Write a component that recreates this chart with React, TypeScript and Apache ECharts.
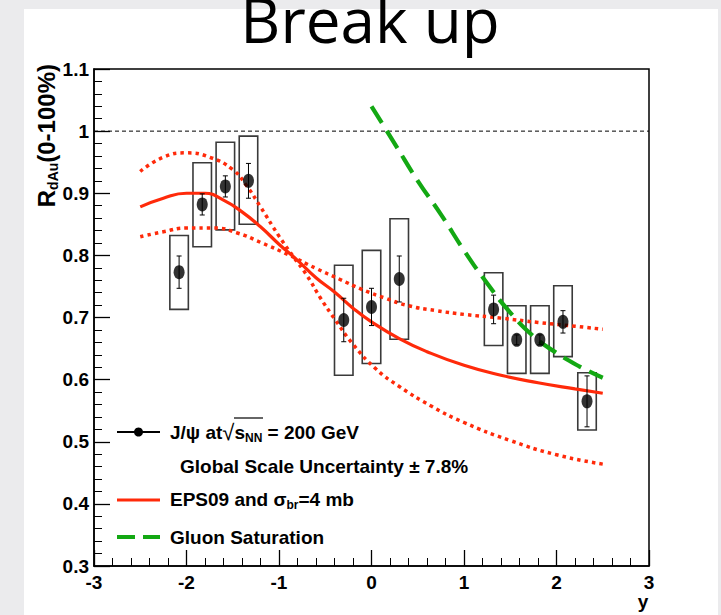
import React, { useEffect, useRef } from "react";
import * as echarts from "echarts";

// ---- data ----
const jpsiY = [-2.08, -1.83, -1.58, -1.33, -0.3, 0.0, 0.3, 1.32, 1.57, 1.82, 2.07, 2.33];
const jpsiR = [0.773, 0.882, 0.911, 0.92, 0.696, 0.717, 0.762, 0.713, 0.664, 0.664, 0.693, 0.565];
const statErr = [0.026, 0.017, 0.017, 0.028, 0.035, 0.03, 0.037, 0.023, 0.008, 0.008, 0.018, 0.041];
const sysLo = [0.713, 0.814, 0.841, 0.85, 0.607, 0.626, 0.665, 0.655, 0.61, 0.61, 0.637, 0.519];
const sysHi = [0.832, 0.949, 0.982, 0.992, 0.784, 0.808, 0.859, 0.772, 0.719, 0.719, 0.751, 0.611];

const epsCentral: number[][] = [
  [-2.5, 0.878], [-2.25, 0.892], [-2.0, 0.9], [-1.8, 0.9], [-1.6, 0.889], [-1.4, 0.87],
  [-1.2, 0.846], [-1.0, 0.818], [-0.8, 0.792], [-0.6, 0.764], [-0.4, 0.741], [-0.2, 0.715],
  [0.0, 0.693], [0.3, 0.666], [0.6, 0.645], [1.0, 0.623], [1.4, 0.607], [1.8, 0.595],
  [2.2, 0.585], [2.5, 0.578],
];
const epsUpperLeft: number[][] = [
  [-2.5, 0.935], [-2.25, 0.958], [-2.0, 0.965], [-1.75, 0.958], [-1.5, 0.938], [-1.35, 0.912],
  [-1.2, 0.878], [-1.0, 0.831], [-0.85, 0.799], [-0.7, 0.768], [-0.55, 0.731], [-0.4, 0.698],
  [-0.2, 0.657], [0.05, 0.617], [0.3, 0.589], [0.65, 0.557], [1.0, 0.531], [1.5, 0.502],
  [2.0, 0.479], [2.5, 0.464],
];
const epsLowerLeft: number[][] = [
  [-2.5, 0.83], [-2.25, 0.838], [-2.0, 0.844], [-1.7, 0.844], [-1.45, 0.836], [-1.2, 0.821],
  [-0.9, 0.801], [-0.6, 0.779], [-0.35, 0.762], [-0.1, 0.745], [0.15, 0.731], [0.4, 0.719],
  [0.7, 0.711], [1.0, 0.705], [1.4, 0.699], [1.8, 0.692], [2.2, 0.686], [2.5, 0.681],
];
const gluonSat: number[][] = [
  [0.0, 1.04], [0.25, 0.98], [0.5, 0.92], [0.75, 0.866], [1.0, 0.808], [1.25, 0.755],
  [1.5, 0.708], [1.75, 0.67], [2.0, 0.643], [2.25, 0.621], [2.5, 0.603],
];
const unityLine: number[][] = [[-3, 1], [3, 1]];

const xMin = -3, xMax = 3, xStep = 1;
const yMin = 0.3, yMax = 1.1, yStep = 0.1;

const RED = "#ff2a0a";
const GREEN = "#13a813";
const FONT = "'Liberation Sans', Arial, Helvetica, sans-serif";
const BOX_HALF = 0.1;

export default function App() {
  const ref = useRef<HTMLDivElement>(null);
  useEffect(() => {
    if (!ref.current) return;
    const chart = echarts.init(ref.current, null, { renderer: "svg" });
    const labelStyle = { fontFamily: FONT, fontWeight: "bold" as const, fontSize: 19, color: "#000" };
    const subStyle = { fontFamily: FONT, fontWeight: "bold" as const, fontSize: 12, color: "#000", padding: [12, 0, 0, 0] };
    const option: any = {
      animation: false,
      backgroundColor: "transparent",
      grid: { left: 94, top: 69, right: 72, bottom: 49, show: true, borderColor: "#000", borderWidth: 1.5, backgroundColor: "transparent" },
      xAxis: {
        type: "value", min: xMin, max: xMax, interval: xStep,
        axisLine: { show: true, onZero: false, lineStyle: { color: "#000", width: 1.5 } },
        axisTick: { show: true, inside: true, length: 16, lineStyle: { color: "#000", width: 1.3 } },
        minorTick: { show: true, splitNumber: 5, length: 8, lineStyle: { color: "#000", width: 1 } },
        splitLine: { show: false },
        axisLabel: { ...labelStyle, margin: 7, formatter: (v: number) => String(v) },
      },
      yAxis: {
        type: "value", min: yMin, max: yMax, interval: yStep,
        axisLine: { show: true, onZero: false, lineStyle: { color: "#000", width: 1.5 } },
        axisTick: { show: true, inside: true, length: 16, lineStyle: { color: "#000", width: 1.3 } },
        minorTick: { show: true, splitNumber: 5, length: 8, lineStyle: { color: "#000", width: 1 } },
        splitLine: { show: false },
        axisLabel: { ...labelStyle, margin: 5, formatter: (v: number) => String(+v.toFixed(1)) },
      },
      series: [
        {
          type: "line", data: unityLine, showSymbol: false, silent: true,
          lineStyle: { color: "#000", width: 1, type: [4, 3] },
        },
        {
          type: "custom",
          data: jpsiY.map((x, i) => [x, sysLo[i], sysHi[i]]),
          encode: { x: 0, y: [1, 2] },
          renderItem: (_p: any, api: any) => {
            const x = api.value(0), lo = api.value(1), hi = api.value(2);
            const a = api.coord([x - BOX_HALF, hi]);
            const b = api.coord([x + BOX_HALF, lo]);
            return {
              type: "rect",
              shape: { x: a[0], y: a[1], width: b[0] - a[0], height: b[1] - a[1] },
              style: { fill: "none", stroke: "#3a3a3a", lineWidth: 1.6 },
            };
          },
          z: 3,
        },
        {
          type: "line", data: epsUpperLeft, smooth: true, showSymbol: false,
          lineStyle: { color: RED, width: 3.5, type: [3.5, 4], cap: "butt" }, z: 4,
        },
        {
          type: "line", data: epsLowerLeft, smooth: true, showSymbol: false,
          lineStyle: { color: RED, width: 3.5, type: [3.5, 4], cap: "butt" }, z: 4,
        },
        {
          type: "line", data: epsCentral, smooth: true, showSymbol: false,
          lineStyle: { color: RED, width: 3.2 }, z: 4,
        },
        {
          type: "line", data: gluonSat, smooth: true, showSymbol: false,
          lineStyle: { color: GREEN, width: 4.2, type: [20, 9], cap: "butt" }, z: 4,
        },
        {
          type: "custom",
          data: jpsiY.map((x, i) => [x, jpsiR[i] - statErr[i], jpsiR[i] + statErr[i]]),
          encode: { x: 0, y: [1, 2] },
          renderItem: (_p: any, api: any) => {
            const x = api.value(0), lo = api.value(1), hi = api.value(2);
            const a = api.coord([x, hi]);
            const b = api.coord([x, lo]);
            const st = { stroke: "#000", lineWidth: 1 };
            return {
              type: "group",
              children: [
                { type: "line", shape: { x1: a[0], y1: a[1], x2: b[0], y2: b[1] }, style: st },
                { type: "line", shape: { x1: a[0] - 2.5, y1: a[1], x2: a[0] + 2.5, y2: a[1] }, style: st },
                { type: "line", shape: { x1: b[0] - 2.5, y1: b[1], x2: b[0] + 2.5, y2: b[1] }, style: st },
              ],
            };
          },
          z: 5,
        },
        {
          type: "scatter",
          data: jpsiY.map((x, i) => [x, jpsiR[i]]),
          symbol: "circle", symbolSize: [11, 14],
          itemStyle: { color: "#000" }, z: 6,
        },
      ],
      graphic: [
        {
          type: "text", x: 370, y: 19,
          style: { text: "Break up", font: "62px 'Open Sans', Lato, sans-serif", fill: "#000", align: "center", verticalAlign: "middle" },
        },
        {
          type: "text", x: 46, y: 64, rotation: Math.PI / 2,
          style: {
            text: "{a|R}{s|dAu}{a|(0-100%)}",
            align: "right", verticalAlign: "middle",
            rich: { a: { ...labelStyle, fontSize: 24 }, s: { ...subStyle, fontSize: 14, padding: [14, 0, 0, 0] } },
          },
        },
        {
          type: "text", x: 643, y: 601,
          style: { text: "y", font: `bold 19px ${FONT}`, fill: "#000", align: "center", verticalAlign: "middle" },
        },
        // legend row 1
        { type: "line", shape: { x1: 117, y1: 432, x2: 160, y2: 432 }, style: { stroke: "#000", lineWidth: 2.2 } },
        { type: "circle", shape: { cx: 138.5, cy: 432, r: 4.5 }, style: { fill: "#000" } },
        {
          type: "text", x: 170, y: 432,
          style: {
            text: "{a|J/ψ at}{r|√}{s|s}{n|NN}{a| = 200 GeV}",
            verticalAlign: "middle",
            rich: {
              a: labelStyle,
              r: { ...labelStyle, fontWeight: "normal", fontSize: 22 },
              s: labelStyle,
              n: subStyle,
            },
          },
        },
        { type: "line", shape: { x1: 234, y1: 418, x2: 263, y2: 418 }, style: { stroke: "#000", lineWidth: 1.2 } },
        {
          type: "text", x: 180, y: 466,
          style: { text: "Global Scale Uncertainty ± 7.8%", font: `bold 19px ${FONT}`, fill: "#000", verticalAlign: "middle" },
        },
        // legend row 3
        { type: "line", shape: { x1: 117, y1: 500, x2: 160, y2: 500 }, style: { stroke: RED, lineWidth: 3.2 } },
        {
          type: "text", x: 170, y: 499,
          style: {
            text: "{a|EPS09 and σ}{n|br}{a|=4 mb}",
            verticalAlign: "middle",
            rich: { a: labelStyle, n: subStyle },
          },
        },
        // legend row 4
        { type: "line", shape: { x1: 117, y1: 537, x2: 160, y2: 537 }, style: { stroke: GREEN, lineWidth: 4.2, lineDash: [18, 8] } },
        {
          type: "text", x: 170, y: 537,
          style: { text: "Gluon Saturation", font: `bold 19px ${FONT}`, fill: "#000", verticalAlign: "middle" },
        },
      ],
    };
    chart.setOption(option);
    return () => chart.dispose();
  }, []);

  return (
    <div style={{ position: "absolute", left: 0, top: 0, width: 721, height: 615, background: "#ebebed", overflow: "hidden" }}>
      <div style={{ position: "absolute", left: 24, top: 9, width: 694, height: 606, background: "#ffffff" }} />
      <div ref={ref} style={{ position: "absolute", left: 0, top: 0, width: 721, height: 615 }} />
    </div>
  );
}
